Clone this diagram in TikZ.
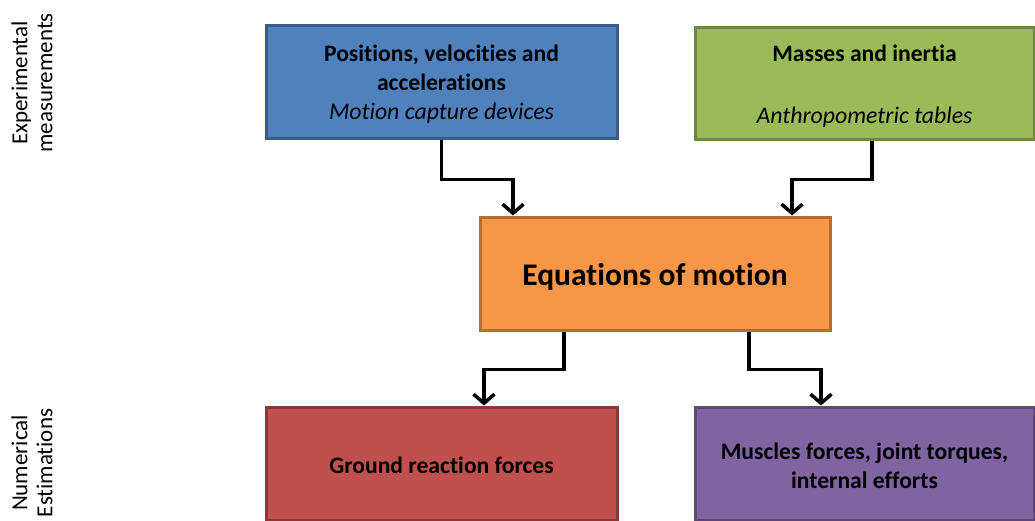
\documentclass[tikz,border=0pt]{standalone}
\usepackage{fontspec}
\setmainfont{Carlito}[Ligatures=NoCommon]
\usetikzlibrary{arrows.meta}

\definecolor{bluefill}{HTML}{4F81BD}
\definecolor{blueline}{HTML}{385D8A}
\definecolor{greenfill}{HTML}{9BBB59}
\definecolor{greenline}{HTML}{71893F}
\definecolor{orangefill}{HTML}{F79646}
\definecolor{orangeline}{HTML}{B66D31}
\definecolor{redfill}{HTML}{C0504D}
\definecolor{redline}{HTML}{8C3836}
\definecolor{purplefill}{HTML}{8064A2}
\definecolor{purpleline}{HTML}{5C4776}

\newcommand{\subnote}[1]{{\mdseries\itshape\fontsize{23.8}{29}\selectfont #1}}

\begin{document}
\begin{tikzpicture}[x=1pt,y=-1pt,
  box/.style={draw, line width=3pt, rectangle, inner sep=0pt},
  boxtext/.style={align=center, inner sep=0pt,
    font=\fontsize{23.6}{29}\selectfont\bfseries},
  flow/.style={line width=3.5pt, -{Straight Barb[length=9pt,width=21pt,line width=3.5pt]}},
  sidelabel/.style={rotate=90, align=center, font=\fontsize{23}{25}\selectfont}
]
\useasboundingbox (0,0) rectangle (1035,520);
\clip (0,0) rectangle (1035,520);

% input data
\node[box, fill=bluefill, draw=blueline, minimum width=351pt, minimum height=113pt]
  (kin) at (441.5,81.5) {};
\node[boxtext] (kin-t) at ([yshift=-3pt]kin.center)
  {Positions, velocities and\\ accelerations\\ \subnote{Motion capture devices}};
\node[box, fill=greenfill, draw=greenline, minimum width=339pt, minimum height=112pt]
  (mass) at (864.5,83) {};
\node[boxtext, font=\fontsize{23.6}{31}\selectfont\bfseries] (mass-t) at ([yshift=-3pt]mass.center)
  {Masses and inertia\\ \mbox{}\\ \subnote{Anthropometric tables}};

% dynamic model
\node[box, fill=orangefill, draw=orangeline, minimum width=350pt, minimum height=113pt]
  (eq) at (655,273.5) {};
\node[boxtext, font=\fontsize{31.5}{38}\selectfont\bfseries] (eq-t) at ([yshift=-3.5pt]eq.center)
  {Equations of motion};

% outputs
\node[box, fill=redfill, draw=redline, minimum width=351pt, minimum height=113pt]
  (grf) at (441.5,463.5) {};
\node[boxtext] (grf-t) at ([yshift=-1.5pt]grf.center) {Ground reaction forces};
\node[box, fill=purplefill, draw=purpleline, minimum width=339pt, minimum height=113pt]
  (musc) at (864.5,463.5) {};
\node[boxtext] (musc-t) at ([yshift=-2pt]musc.center)
  {Muscles forces, joint torques,\\ internal efforts};

% row labels
\node[sidelabel] (exp) at (32,83) {Experimental\\ measurements};
\node[sidelabel] (num) at (32,463) {Numerical\\ Estimations};

% connectors
\draw[flow] (kin.south) -- ++(0,40) -| ([xshift=-142pt]eq.north);
\draw[flow] ([xshift=7.5pt]mass.south) -- ++(0,39) -| ([xshift=137pt]eq.north);
\draw[flow] ([xshift=-91pt]eq.south) -- ++(0,38) -| ([xshift=42.5pt]grf.north);
\draw[flow] ([xshift=94pt]eq.south) -- ++(0,38) -| ([xshift=-43.5pt]musc.north);
\end{tikzpicture}
\end{document}
